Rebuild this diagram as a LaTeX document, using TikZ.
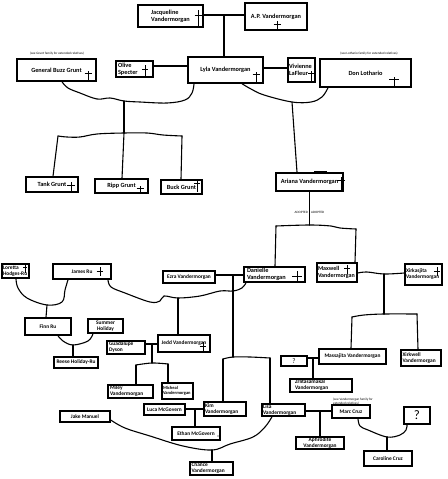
\documentclass[tikz,border=0pt]{standalone}
\usepackage{fontspec}
\setmainfont{Carlito}
\hyphenpenalty=10000
\exhyphenpenalty=10000
\newcommand\ripx[5]{\draw[crossline] (#1,#2) -- (#1,#3) (#1-#5,#4) -- (#1+#5,#4);}
\begin{document}
\begin{tikzpicture}[x=1pt,y=-1pt,
  box/.style={draw, line width=1.5pt, inner sep=0pt, align=center},
  t63/.style={font=\fontsize{6.3}{7.2}\selectfont\bfseries},
  t6/.style={font=\fontsize{6}{7}\selectfont\bfseries},
  t54/.style={font=\fontsize{5.4}{6}\selectfont\bfseries},
  t45/.style={font=\fontsize{4.5}{5.2}\selectfont\bfseries},
  tnote/.style={font=\fontsize{3.3}{3.8}\selectfont, inner sep=0pt},
  conn/.style={line width=1.1pt, line join=round, line cap=round},
  sconn/.style={line width=1.5pt, line cap=round},
  crossline/.style={line width=0.8pt}]
\fill[white] (0,0) rectangle (447,479);
\useasboundingbox (0,0) rectangle (447,479);

% ---- boxes ----
\node[box,t63,align=left,minimum width=65,minimum height=22] (jac) at (170.5,16) {Jacqueline\\Vandermorgan};
\node[box,t63,minimum width=62,minimum height=27] (ap) at (276,16.5) {A.P. Vandermorgan};
\node[box,t63,minimum width=79,minimum height=22] (buzz) at (56.5,70) {General Buzz Grunt};
\node[box,t63,align=left,text width=33,inner xsep=2,minimum height=16] (olive) at (134.5,69) {Olive\\Specter};
\node[box,t63,minimum width=75,minimum height=26] (lyla) at (225.5,70) {Lyla Vandermorgan};
\node[box,t63,align=left,text width=25,inner xsep=1,minimum height=24] (viv) at (301.5,70) {Vivienne\\LaFleur};
\node[box,t63,minimum width=91,minimum height=28] (don) at (365.5,73) {Don Lothario};
\node[box,t63,minimum width=52,minimum height=15] (tank) at (52,184.5) {Tank Grunt};
\node[box,t63,minimum width=53,minimum height=14] (ripp) at (121.5,186) {Ripp Grunt};
\node[box,t63,minimum width=41,minimum height=14] (buck) at (181.5,187) {Buck Grunt};
\node[box,t63,minimum width=67,minimum height=18] (ariana) at (309.5,182) {Ariana Vandermorgan};
\node[box,t54,minimum width=52,minimum height=12] (ezra) at (189,277) {Ezra Vandermorgan};
\node[box,t63,align=left,text width=55,inner xsep=3,minimum height=15] (dan) at (274.5,274.5) {Danielle\\Vandermorgan};
\node[box,t6,align=left,text width=38,inner xsep=1,minimum height=19] (max) at (337,272.5) {Maxwell\\Vandermorgan};
\node[box,t54,align=left,text width=35,inner xsep=1,minimum height=21] (xirk) at (423.5,274.5) {Xirkasjita\\Vandermorgan};
\node[box,t54,align=left,text width=25,inner xsep=1,minimum height=14] (loretta) at (15.5,271) {Loretta\\Hodges-Ru};
\node[box,t54,minimum width=58,minimum height=15] (james) at (82,271.5) {James Ru};
\node[box,t54,minimum width=46,minimum height=17] (finn) at (48,326.5) {Finn Ru};
\node[box,t54,minimum width=35,minimum height=14] (summer) at (105.5,326) {Summer\\Holiday};
\node[box,t54,minimum width=44,minimum height=11] (reese) at (76,362.5) {Reese Holiday-Ru};
\node[box,t54,minimum width=52,minimum height=17] (jedd) at (184,343.5) {Jedd Vandermorgan};
\node[box,t54,align=left,text width=34,inner xsep=2,minimum height=13] (guad) at (126,347.5) {Guadalupe\\Dyson};
\node[box,t54,align=left,text width=41,inner xsep=2,minimum height=13] (miley) at (130.5,391.5) {Miley\\Vandermorgan};
\node[box,t45,align=left,text width=29,inner xsep=1,minimum height=16] (mich) at (177.5,391) {Micheal\\Vandermorgan};
\node[box,t54,minimum width=41,minimum height=11] (luca) at (164.5,409.5) {Luca McGovern};
\node[box,t54,align=left,text width=40,inner xsep=1,minimum height=14] (kim) at (225,409) {Kim\\Vandermorgan};
\node[box,t54,minimum width=48,minimum height=13] (ethan) at (196,433.5) {Ethan McGovern};
\node[box,t54,align=left,text width=40,inner xsep=1.5,minimum height=13] (chance) at (211.5,468.5) {Chance\\Vandermorgan};
\node[box,t54,minimum width=50,minimum height=11] (jake) at (85,416.5) {Jake Manuel};
\node[box,t54,align=left,text width=41,inner xsep=1,minimum height=12] (lisa) at (283.5,410) {Lisa\\Vandermorgan};
\node[box,t54,minimum width=38,minimum height=13] (marc) at (351,411.5) {Marc Cruz};
\node[box,t54,minimum width=48,minimum height=12] (aph) at (320,443) {Aphrodite\\Vandermorgan};
\node[box,minimum width=26,minimum height=17,font=\fontsize{13}{13}\selectfont] (qb) at (417,415.5) {?};
\node[box,t54,minimum width=48,minimum height=15] (caroline) at (388,458.5) {Caroline Cruz};
\node[box,minimum width=26,minimum height=10,font=\fontsize{7}{7}\selectfont] (qa) at (294,361) {?};
\node[box,t54,minimum width=67,minimum height=15] (mass) at (352.5,356.5) {Massajita Vandermorgan};
\node[box,t54,align=left,text width=37,inner xsep=1.5,minimum height=16] (xw) at (421,358) {Xirkwell\\Vandermorgan};
\node[box,t54,align=left,text width=52,inner xsep=5,minimum height=13] (zrl) at (321,385.5) {Zrlitasamakal\\Vandermorgan};

% ---- notes ----
\node[tnote] (n1) at (57,54) {(see Grunt family for extended relatives)};
\node[tnote] (n2) at (369,54) {(see Lothario family for extended relatives)};
\node[tnote,align=left,anchor=south west] (n3) at (333,405) {(see Vandermorgan family for\\extended relatives)};
\node[tnote,anchor=east] (ad1) at (308,212) {ADOPTED};
\node[tnote,anchor=west] (ad2) at (311,212) {ADOPTED};

% ---- connectors ----
\draw[sconn] (jac.east |- 0,15) -- (ap.west |- 0,15);
\coordinate (m1) at (224,15);
\draw[conn] (m1) -- (m1 |- lyla.north);
\draw[sconn] (olive.east |- 0,66) -- (lyla.west |- 0,66);
\draw[sconn] (lyla.east |- 0,68) -- (viv.west |- 0,68);
\coordinate (g1) at (124,101);
\draw[conn] plot[smooth,tension=0.6] coordinates {(buzz.south -| 62,0) (68,88) (80,93) (97,99) (110,98) (g1) (140,102) (167,103) (185,100) (192,93) (lyla.south -| 194,0)};
\coordinate (g2) at (124,133);
\draw[conn] (g1) -- (g2);
\coordinate (gl) at (58,136);
\coordinate (gr) at (182,136);
\draw[conn] plot[smooth,tension=0.6] coordinates {(gl) (67,137) (80,137) (97,134) (g2) (147,133) (163,135) (gr)};
\draw[conn] (gl) -- (tank.north -| 53,0);
\draw[conn] (g2) -- (ripp.north -| 122,0);
\draw[conn] (gr) -- (buck.north -| 181,0);

\coordinate (a1) at (292,102);
\draw[conn] plot[smooth,tension=0.6] coordinates {(lyla.south -| 242,0) (251,89) (264,95) (a1) (311,102) (322,97) (don.south -| 328,0)};
\draw[conn] (a1) -- (ariana.north -| 297,0);
\draw[line width=2.6pt] (ariana.north -| 314,0) -- (ariana.north -| 327,0);
\coordinate (a2) at (309.5,225);
\draw[sconn] (ariana.south) -- (a2);
\coordinate (al) at (276,226);
\coordinate (ar) at (356,229);
\draw[conn] plot[smooth,tension=0.6] coordinates {(al) (a2) (331,226) (340,228) (ar)};
\draw[conn] (al) -- (dan.north -| 275,0);
\draw[conn] (ar) -- (max.north -| 355,0);

\draw[sconn] (ezra.east |- 0,275) -- (dan.west |- 0,275);
\coordinate (e1) at (233,275);
\coordinate (e2) at (233,357);
\draw[sconn] (e1) -- (e2);
\coordinate (kl) at (223,359);
\coordinate (kr) at (270,358);
\draw[conn] plot[smooth,tension=0.6] coordinates {(kl) (e2) (250,357) (kr)};
\draw[conn] (kl) -- (kim.north -| 223,0);
\draw[conn] (kr) -- (lisa.north -| 270,0);

\coordinate (j2) at (178,298);
\draw[conn] plot[smooth,tension=0.6] coordinates {(james.south -| 108,0) (111,287) (125,293) (150,302) (160,301) (164,296) (j2) (200,296) (220,291) (233,291) (242,288) (dan.south -| 246,0)};
\draw[conn] (j2) -- (jedd.north -| 178,0);

\coordinate (l1) at (47,305);
\draw[conn] plot[smooth,tension=0.6] coordinates {(loretta.south -| 16,0) (18,288) (27,298) (l1) (62,302) (65,290) (james.south -| 68,0)};
\draw[conn] (l1) -- (finn.north -| 46,0);
\coordinate (f1) at (73,345);
\draw[conn] plot[smooth,tension=0.6] coordinates {(finn.south -| 58,0) (63,341) (f1) (88,341) (summer.south -| 93,0)};
\draw[conn] (f1) -- (reese.north -| 73,0);

\draw[sconn] (guad.east |- 0,344) -- (jedd.west |- 0,344);
\coordinate (d1) at (152,344);
\coordinate (d2) at (152,363);
\draw[conn] (d1) -- (d2);
\coordinate (dl) at (136,365);
\coordinate (dr) at (168,364);
\draw[conn] plot[smooth,tension=0.6] coordinates {(dl) (d2) (dr)};
\draw[conn] (dl) -- (miley.north -| 136,0);
\draw[conn] (dr) -- (mich.north -| 168,0);

\draw[sconn] (luca.east |- 0,409) -- (kim.west |- 0,409);
\coordinate (k1) at (195,409);
\draw[sconn] (k1) -- (ethan.north -| 195,0);

\coordinate (c1) at (212,450);
\draw[conn] plot[smooth,tension=0.6] coordinates {(jake.east |- 0,420) (125,428) (150,436) (183,446) (c1) (230,444) (253,437) (265,427) (lisa.south -| 272,0)};
\draw[sconn] (c1) -- (chance.north -| 212,0);

\draw[sconn] (lisa.east |- 0,411) -- (marc.west |- 0,411);
\coordinate (p1) at (320,411);
\draw[sconn] (p1) -- (aph.north -| 320,0);
\coordinate (cc) at (387,437);
\draw[conn] plot[smooth,tension=0.6] coordinates {(marc.south -| 358,0) (360,426) (368,430) (cc) (400,435) (406,430) (qb.south -| 407,0)};
\draw[sconn] (cc) -- (caroline.north -| 387,0);

\coordinate (x1) at (384,274);
\coordinate (x2) at (384,314);
\draw[conn] plot[smooth,tension=0.6] coordinates {(max.east |- 0,273) (367,272) (x1) (xirk.west |- 0,273)};
\draw[sconn] (x1) -- (x2);
\coordinate (xl) at (352,317);
\coordinate (xr) at (417,314);
\draw[conn] plot[smooth,tension=0.6] coordinates {(xl) (364,315) (x2) (xr)};
\draw[conn] (xl) -- (mass.north -| 351,0);
\draw[conn] (xr) -- (xw.north -| 418,0);
\draw[sconn] (qa.east |- 0,358) -- (mass.west |- 0,358);
\coordinate (z1) at (313,358);
\draw[conn] (z1) -- (zrl.north -| 313,0);

% ---- crosses ----
\ripx{198}{10}{27}{15}{3.5}
\ripx{277}{21}{29}{24}{3.5}
\ripx{88}{71}{81}{73}{3.5}
\ripx{145}{65}{77}{69}{3}
\ripx{256}{72}{83}{74}{3.5}
\ripx{311}{71}{82}{73}{3}
\ripx{394}{77}{87}{79}{5}
\ripx{71}{182}{192}{185}{4}
\ripx{140}{186}{193}{188}{3.5}
\ripx{197}{181}{192}{183}{3}
\ripx{341}{177}{190}{180}{4}
\ripx{297}{271}{282}{276}{5}
\ripx{347}{265}{274}{268}{2.8}
\ripx{437}{267}{276}{271}{3.2}
\ripx{25}{264}{273}{267}{2}
\ripx{100}{267}{276}{271}{3.3}
\ripx{203}{342}{352}{346}{3.3}
\fill (218,436) circle (0.7);
\fill (238,402) circle (0.9);
\end{tikzpicture}
\end{document}
